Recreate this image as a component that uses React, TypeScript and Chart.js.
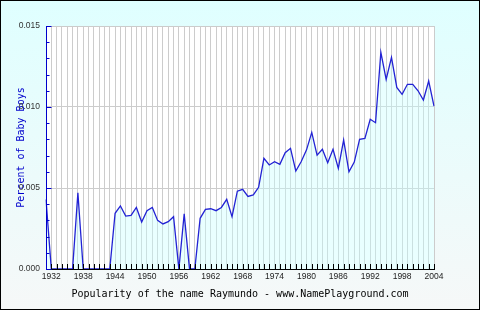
import React, { useEffect, useRef } from "react";
import { Chart, registerables } from "chart.js";

Chart.register(...registerables);

const years: string[] = [];
for (let y = 1931; y <= 2004; y++) years.push(String(y));

const xTickLabels = ["1932", "1938", "1944", "1950", "1956", "1962", "1968", "1974", "1980", "1986", "1992", "1998", "2004"];
const yTickLabels = ["0.000", "0.005", "0.010", "0.015"];

const percentValues = [
  0.0043, 0, 0, 0, 0, 0, 0.0047, 0, 0, 0, 0, 0, 0,
  0.00344, 0.00389, 0.00327, 0.00331, 0.0038, 0.0029, 0.0036, 0.0038, 0.003, 0.00278,
  0.00292, 0.00323, 0, 0.0034, 0, 0, 0.00313, 0.00368, 0.00372, 0.0036,
  0.0038, 0.0043, 0.00323, 0.0048, 0.00492, 0.00448, 0.00457, 0.00504, 0.00683, 0.00642,
  0.00662, 0.00646, 0.00718, 0.00745, 0.00605, 0.00662, 0.00734, 0.00843, 0.00703, 0.00739,
  0.00656, 0.00739, 0.00621, 0.00796, 0.006, 0.0066, 0.008, 0.00806, 0.00924, 0.00903,
  0.01337, 0.0117, 0.01306, 0.01121, 0.01078, 0.0114, 0.0114, 0.011, 0.01043, 0.0116,
  0.01006,
];

const bgPlugin = {
  id: "bgPlugin",
  beforeDraw(chart: any) {
    const { ctx, width, height, chartArea } = chart;
    ctx.save();
    const g = ctx.createLinearGradient(0, 0, 0, height);
    g.addColorStop(0, "#dfffff");
    g.addColorStop(1, "#f6f8f8");
    ctx.fillStyle = g;
    ctx.fillRect(0, 0, width, height);
    ctx.fillStyle = "#ffffff";
    ctx.fillRect(chartArea.left, chartArea.top, chartArea.right - chartArea.left, chartArea.bottom - chartArea.top);
    ctx.strokeStyle = "#000000";
    ctx.lineWidth = 1;
    ctx.strokeRect(0.5, 0.5, width - 1, height - 1);
    ctx.restore();
  },
  afterDatasetsDraw(chart: any) {
    const { ctx, chartArea, scales } = chart;
    const xs = scales.x;
    const ys = scales.y;
    ctx.save();
    ctx.lineWidth = 1;
    // x ticks (inward)
    ctx.strokeStyle = "#000000";
    ctx.beginPath();
    for (let i = 0; i < years.length; i++) {
      const px = Math.round(xs.getPixelForValue(i)) + 0.5;
      ctx.moveTo(px, chartArea.bottom);
      ctx.lineTo(px, chartArea.bottom - 5);
    }
    ctx.stroke();
    // x axis line
    ctx.beginPath();
    ctx.moveTo(chartArea.left, Math.round(chartArea.bottom) + 0.5);
    ctx.lineTo(chartArea.right + 1, Math.round(chartArea.bottom) + 0.5);
    ctx.stroke();
    // y axis + ticks
    ctx.strokeStyle = "#0000cc";
    ctx.beginPath();
    const lx = Math.round(chartArea.left) + 0.5;
    ctx.moveTo(lx, chartArea.top);
    ctx.lineTo(lx, chartArea.bottom + 1);
    for (let k = 0; k <= 15; k++) {
      const py = Math.round(ys.getPixelForValue(k * 0.001)) + 0.5;
      const len = k % 5 === 0 ? 5 : 3;
      ctx.moveTo(lx, py);
      ctx.lineTo(lx + len, py);
    }
    ctx.stroke();
    ctx.restore();
  },
};

export default function App() {
  const ref = useRef<HTMLCanvasElement>(null);
  useEffect(() => {
    if (!ref.current) return;
    const chart = new Chart(ref.current, {
      type: "line",
      data: {
        labels: years,
        datasets: [
          {
            data: percentValues,
            borderColor: "#2222d4",
            borderWidth: 1.3,
            pointRadius: 0,
            tension: 0,
            fill: "origin",
            backgroundColor: "rgba(200,255,255,0.4)",
          },
        ],
      },
      options: {
        animation: false,
        responsive: false,
        devicePixelRatio: 1,
        layout: { padding: { left: 0, top: 26, right: 46, bottom: 0 } },
        plugins: { legend: { display: false }, tooltip: { enabled: false } },
        scales: {
          x: {
            type: "category",
            offset: false,
            grid: { color: "#cccccc", drawTicks: false, lineWidth: 1 },
            border: { display: false },
            ticks: {
              autoSkip: false,
              maxRotation: 0,
              minRotation: 0,
              padding: 3,
              color: "#222222",
              font: { family: "'Liberation Sans', Arial, sans-serif", size: 8.5 },
              callback: (_v: any, i: number) => (xTickLabels.includes(years[i]) ? years[i] : ""),
            },
            title: {
              display: true,
              text: "Popularity of the name Raymundo - www.NamePlayground.com",
              color: "#000000",
              font: { family: "'DejaVu Sans Mono', monospace", size: 10 },
              padding: { top: 0, bottom: 10 },
            },
            afterFit: (s: any) => {
              s.height = 41;
            },
          },
          y: {
            min: 0,
            max: 0.015,
            grid: { color: "#cccccc", drawTicks: false, lineWidth: 1 },
            border: { display: false },
            ticks: {
              stepSize: 0.005,
              padding: 6,
              color: "#333333",
              font: { family: "'Liberation Sans', Arial, sans-serif", size: 8.5 },
              callback: (v: any) => {
                const idx = Math.round(Number(v) / 0.005);
                return yTickLabels[idx] ?? "";
              },
            },
            title: {
              display: true,
              text: "Percent of Baby Boys",
              color: "#0000cc",
              font: { family: "'DejaVu Sans Mono', monospace", size: 10 },
              padding: { top: 15, bottom: 0 },
            },
            afterFit: (s: any) => {
              s.width = 46;
            },
          },
        },
      },
      plugins: [bgPlugin],
    });
    return () => chart.destroy();
  }, []);
  return (
    <div style={{ position: "absolute", left: 0, top: 0, width: 480, height: 310 }}>
      <canvas ref={ref} width={480} height={310} style={{ width: 480, height: 310, display: "block" }} />
    </div>
  );
}
